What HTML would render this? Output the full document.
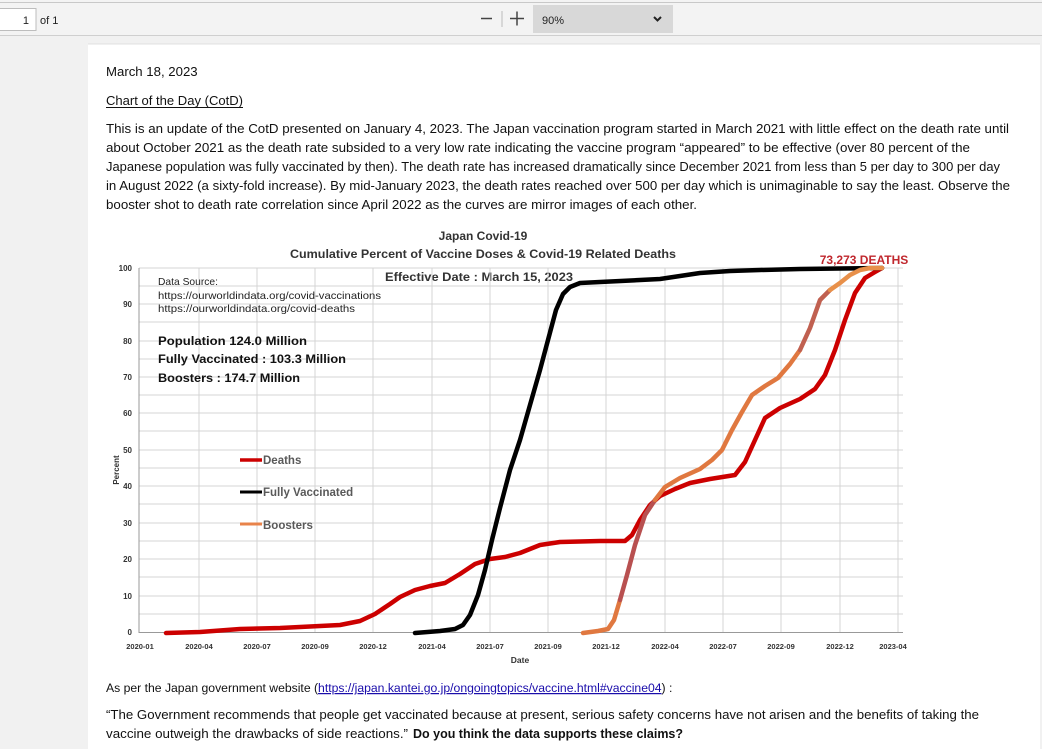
<!DOCTYPE html>
<html><head><meta charset="utf-8"><style>
html,body{margin:0;padding:0;width:1042px;height:749px;overflow:hidden;background:#f1f1f1}
svg{display:block}
</style></head><body>
<svg width="1042" height="749" viewBox="0 0 1042 749" xmlns="http://www.w3.org/2000/svg" font-family="'Liberation Sans',sans-serif">
<rect x="0" y="0" width="1042" height="35" fill="#f3f3f3"/>
<line x1="0" y1="2.5" x2="1042" y2="2.5" stroke="#c8c8c8"/>
<line x1="0" y1="35.5" x2="1042" y2="35.5" stroke="#cfcfcf"/>
<rect x="-1" y="8.5" width="37" height="22" fill="#fff" stroke="#bdbdbd"/>
<text x="29" y="24" font-size="11" text-anchor="end" fill="#222">1</text>
<text x="40" y="24" font-size="11" fill="#222">of 1</text>
<line x1="481" y1="18.5" x2="492" y2="18.5" stroke="#444" stroke-width="1.5"/>
<line x1="502" y1="11" x2="502" y2="27" stroke="#bbb"/>
<line x1="510" y1="18.5" x2="524" y2="18.5" stroke="#444" stroke-width="1.5"/>
<line x1="517" y1="11.5" x2="517" y2="25.5" stroke="#444" stroke-width="1.5"/>
<rect x="533" y="5" width="140" height="28" fill="#d8d8d8"/>
<text x="542" y="24" font-size="11" fill="#222">90%</text>
<path d="M654 17 l3.5 3.5 l3.5 -3.5" stroke="#222" stroke-width="2" fill="none"/>
<rect x="88" y="44" width="952" height="720" fill="#fff"/>
<line x1="88" y1="44" x2="1040" y2="44" stroke="#e0e0e0"/>
<g font-size="13.2" fill="#111">
<text x="106" y="76">March 18, 2023</text>
<text x="106" y="105" textLength="137" lengthAdjust="spacingAndGlyphs">Chart of the Day (CotD)</text>
<line x1="106" y1="107.5" x2="243" y2="107.5" stroke="#111"/>
<text x="106" y="133" textLength="903" lengthAdjust="spacingAndGlyphs">This is an update of the CotD presented on January 4, 2023.  The Japan vaccination program started in March 2021 with little effect on the death rate until</text>
<text x="106" y="152" textLength="864" lengthAdjust="spacingAndGlyphs">about October 2021 as the death rate subsided to a very low rate indicating the vaccine program “appeared” to be effective (over 80 percent of the</text>
<text x="106" y="171" textLength="894" lengthAdjust="spacingAndGlyphs">Japanese population was fully vaccinated by then).  The death rate has increased dramatically since December 2021 from less than 5 per day to 300 per day</text>
<text x="106" y="190" textLength="904" lengthAdjust="spacingAndGlyphs">in August 2022 (a sixty-fold increase).  By mid-January 2023, the death rates reached over 500 per day which is unimaginable to say the least.  Observe the</text>
<text x="106" y="209" textLength="591" lengthAdjust="spacingAndGlyphs">booster shot to death rate correlation since April 2022 as the curves are mirror images of each other.</text>
</g>
<g font-weight="bold" fill="#333" text-anchor="middle" font-size="12">
<text x="483" y="240">Japan Covid-19</text>
<text x="483" y="258" textLength="386" lengthAdjust="spacingAndGlyphs">Cumulative Percent of Vaccine Doses &amp; Covid-19 Related Deaths</text>
<text x="479" y="281" textLength="188" lengthAdjust="spacingAndGlyphs">Effective Date : March 15, 2023</text>
</g>
<text x="864" y="264" font-size="12" font-weight="bold" fill="#c0272d" text-anchor="middle">73,273 DEATHS</text>
<g stroke="#d4d4d4" stroke-width="1">
<line x1="139" y1="268" x2="903" y2="268"/><line x1="139" y1="286" x2="903" y2="286"/>
<line x1="139" y1="304" x2="903" y2="304"/><line x1="139" y1="322" x2="903" y2="322"/>
<line x1="139" y1="341" x2="903" y2="341"/><line x1="139" y1="359" x2="903" y2="359"/>
<line x1="139" y1="377" x2="903" y2="377"/><line x1="139" y1="395" x2="903" y2="395"/>
<line x1="139" y1="413" x2="903" y2="413"/><line x1="139" y1="431" x2="903" y2="431"/>
<line x1="139" y1="450" x2="903" y2="450"/><line x1="139" y1="468" x2="903" y2="468"/>
<line x1="139" y1="486" x2="903" y2="486"/><line x1="139" y1="504" x2="903" y2="504"/>
<line x1="139" y1="523" x2="903" y2="523"/><line x1="139" y1="541" x2="903" y2="541"/>
<line x1="139" y1="559" x2="903" y2="559"/><line x1="139" y1="577" x2="903" y2="577"/>
<line x1="139" y1="596" x2="903" y2="596"/><line x1="139" y1="614" x2="903" y2="614"/>
<line x1="199" y1="268" x2="199" y2="632"/><line x1="257" y1="268" x2="257" y2="632"/>
<line x1="315" y1="268" x2="315" y2="632"/><line x1="373" y1="268" x2="373" y2="632"/>
<line x1="432" y1="268" x2="432" y2="632"/><line x1="490" y1="268" x2="490" y2="632"/>
<line x1="548" y1="268" x2="548" y2="632"/><line x1="606" y1="268" x2="606" y2="632"/>
<line x1="665" y1="268" x2="665" y2="632"/><line x1="723" y1="268" x2="723" y2="632"/>
<line x1="781" y1="268" x2="781" y2="632"/><line x1="840" y1="268" x2="840" y2="632"/>
<line x1="898" y1="268" x2="898" y2="632"/>
</g>
<line x1="139" y1="268" x2="139" y2="633" stroke="#999"/>
<line x1="139" y1="632.5" x2="903" y2="632.5" stroke="#999"/>
<g font-size="8" font-weight="bold" fill="#333" text-anchor="end">
<text x="132" y="271">100</text><text x="132" y="307">90</text><text x="132" y="344">80</text>
<text x="132" y="380">70</text><text x="132" y="416">60</text><text x="132" y="453">50</text>
<text x="132" y="489">40</text><text x="132" y="526">30</text><text x="132" y="562">20</text>
<text x="132" y="599">10</text><text x="132" y="635">0</text>
</g>
<text transform="translate(119,470) rotate(-90)" font-size="8" font-weight="bold" fill="#333" text-anchor="middle">Percent</text>
<g font-size="7.5" font-weight="bold" fill="#333" text-anchor="middle">
<text x="140" y="649">2020-01</text><text x="199" y="649">2020-04</text><text x="257" y="649">2020-07</text>
<text x="315" y="649">2020-09</text><text x="373" y="649">2020-12</text><text x="432" y="649">2021-04</text>
<text x="490" y="649">2021-07</text><text x="548" y="649">2021-09</text><text x="606" y="649">2021-12</text>
<text x="665" y="649">2022-04</text><text x="723" y="649">2022-07</text><text x="781" y="649">2022-09</text>
<text x="840" y="649">2022-12</text><text x="893" y="649">2023-04</text>
</g>
<text x="520" y="663" font-size="8.5" font-weight="bold" fill="#333" text-anchor="middle">Date</text>
<g fill="#222" font-size="10.5">
<text x="158" y="285" textLength="60" lengthAdjust="spacingAndGlyphs">Data Source:</text>
<text x="158" y="299" textLength="223" lengthAdjust="spacingAndGlyphs">https://ourworldindata.org/covid-vaccinations</text>
<text x="158" y="312" textLength="197" lengthAdjust="spacingAndGlyphs">https://ourworldindata.org/covid-deaths</text>
</g>
<g fill="#111" font-size="12" font-weight="bold">
<text x="158" y="345" textLength="149" lengthAdjust="spacingAndGlyphs">Population 124.0 Million</text>
<text x="158" y="363" textLength="188" lengthAdjust="spacingAndGlyphs">Fully Vaccinated : 103.3 Million</text>
<text x="158" y="382" textLength="142" lengthAdjust="spacingAndGlyphs">Boosters : 174.7 Million</text>
</g>
<line x1="240" y1="460" x2="262" y2="460" stroke="#cc0000" stroke-width="3.5"/>
<line x1="240" y1="492" x2="262" y2="492" stroke="#000" stroke-width="3"/>
<line x1="240" y1="524" x2="262" y2="524" stroke="#e8834a" stroke-width="3"/>
<g fill="#595959" font-size="11.5" font-weight="bold">
<text x="263" y="464">Deaths</text>
<text x="263" y="496">Fully Vaccinated</text>
<text x="263" y="529">Boosters</text>
</g>
<g fill="none" stroke-width="4.5" stroke-linejoin="round" stroke-linecap="round">
<polyline stroke="#cc0000" points="166,633 200,632 240,629 280,628 340,625 360,621 375,614 390,604 400,597 415,590 430,586 445,583 460,574 475,564 490,559 505,557 520,553 540,545 560,542 600,541 625,541 632,535 640,520 650,505 660,496 675,489 690,483 710,479 735,475 745,462 755,440 765,418 780,408 800,399 815,389 825,375 835,350 845,320 855,293 865,278 875,272 882,268"/>
<polyline stroke="#000" points="415,633 440,631 455,629 463,625 470,615 478,595 485,570 492,540 500,508 510,470 520,440 530,405 540,370 548,340 556,310 563,294 570,287 580,283 600,282 640,280 660,279 680,276 700,273 730,271 760,270 800,269 840,268.5 882,268"/>
<polyline stroke="#e07840" points="583,633 598,631 608,629 614,620 620,600"/>
<polyline stroke="#b85050" points="620,600 627,575 635,545 645,515 655,500"/>
<polyline stroke="#e07840" points="655,500 665,487 680,478 700,469 712,460 722,450 732,430 742,412 752,395 765,386 778,378 790,364 800,350"/>
<polyline stroke="#c06050" points="800,350 810,328 820,300 830,290"/>
<polyline stroke="#e8904a" points="830,290 840,283 850,275 860,270 870,268 882,268"/>
</g>
<g font-size="12.2" fill="#111">
<text x="106" y="692">As per the Japan government website (<tspan fill="#1a0dab" text-decoration="underline">https://japan.kantei.go.jp/ongoingtopics/vaccine.html#vaccine04</tspan>) :</text>
</g>
<g font-size="13.2" fill="#111">
<text x="106" y="719" textLength="873" lengthAdjust="spacingAndGlyphs">“The Government recommends that people get vaccinated because at present, serious safety concerns have not arisen and the benefits of taking the</text>
<text x="106" y="738" textLength="302" lengthAdjust="spacingAndGlyphs">vaccine outweigh the drawbacks of side reactions.”</text>
<text x="413" y="738" font-weight="bold" textLength="270" lengthAdjust="spacingAndGlyphs">Do you think the data supports these claims?</text>
</g>
</svg>
</body></html>
